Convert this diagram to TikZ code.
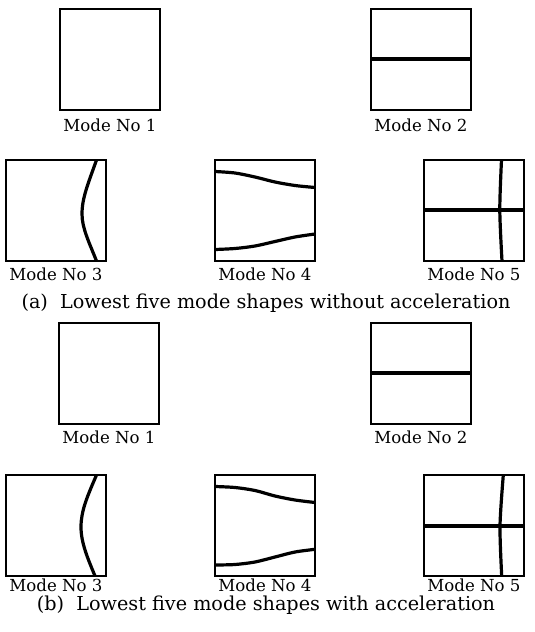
\documentclass[tikz,border=0pt]{standalone}
\usepackage{fontspec}
\setmainfont{DejaVu Serif}
\usetikzlibrary{calc}
\begin{document}
\begin{tikzpicture}[x=1pt,y=-1pt,
  modebox/.style={draw=black, line width=1.6pt, minimum width=100pt, minimum height=101pt, inner sep=0pt, outer sep=0pt, anchor=north west},
  modelabel/.style={anchor=base, font=\fontsize{16.6}{18}\selectfont, inner sep=0pt},
  capt/.style={anchor=base, font=\fontsize{19.2}{22}\selectfont, inner sep=0pt},
  nodal/.style={line width=3.2pt, line join=round}]
\useasboundingbox[fill=white] (0,0) rectangle (535,632);

% ---------- (a) ----------
\node[modebox] (a1) at (60,9) {};
\node[modebox] (a2) at (371,9) {};
\node[modebox] (a3) at (6,160) {};
\node[modebox] (a4) at (215,160) {};
\node[modebox] (a5) at (424,160) {};

\begin{scope}[shift={(a2.north west)}]
  \draw[nodal] (0,50) -- (100,50);
\end{scope}
\begin{scope}[shift={(a3.north west)}]
  \draw[nodal] (90.5,0) .. controls (82,24) and (76,38) .. (76,54)
                        .. controls (76,68) and (83,82) .. (90.5,101);
\end{scope}
\begin{scope}[shift={(a4.north west)}]
  \draw[nodal] plot[smooth] coordinates {(0,11.5) (20,13) (40,17) (60,22) (80,25.5) (100,27.5)};
  \draw[nodal] plot[smooth] coordinates {(0,89.5) (20,88.5) (40,86) (60,81.5) (80,77) (100,74)};
\end{scope}
\begin{scope}[shift={(a5.north west)}]
  \draw[nodal] (0,50) -- (100,50);
  \draw[nodal] plot[smooth] coordinates {(77.5,0) (75.8,50) (78,101)};
\end{scope}

\node[modelabel] (la1) at ($(a1.south)+(0,21)$) {Mode No 1};
\node[modelabel] (la2) at ($(a2.south)+(0,21)$) {Mode No 2};
\node[modelabel] (la3) at ($(a3.south)+(0,19)$) {Mode No 3};
\node[modelabel] (la4) at ($(a4.south)+(0,19)$) {Mode No 4};
\node[modelabel] (la5) at ($(a5.south)+(0,19)$) {Mode No 5};
\node[capt] (capa) at (266,308) {(a)\ \ Lowest five mode shapes without acceleration};

% ---------- (b) ----------
\node[modebox] (b1) at (59,323) {};
\node[modebox] (b2) at (371,323) {};
\node[modebox] (b3) at (6,475) {};
\node[modebox] (b4) at (215,475) {};
\node[modebox] (b5) at (424,475) {};

\begin{scope}[shift={(b2.north west)}]
  \draw[nodal] (0,50) -- (100,50);
\end{scope}
\begin{scope}[shift={(b3.north west)}]
  \draw[nodal] (90.5,0) .. controls (81,22) and (75,36) .. (75,52)
                        .. controls (75,68) and (82,84) .. (89,101);
\end{scope}
\begin{scope}[shift={(b4.north west)}]
  \draw[nodal] plot[smooth] coordinates {(0,11.5) (20,12.5) (40,15.5) (60,21) (80,25) (100,27.5)};
  \draw[nodal] plot[smooth] coordinates {(0,90) (20,89.5) (40,87) (60,82) (80,77) (100,74.3)};
\end{scope}
\begin{scope}[shift={(b5.north west)}]
  \draw[nodal] (0,51) -- (100,51);
  \draw[nodal] plot[smooth] coordinates {(79.3,0) (76,51) (77.7,101)};
\end{scope}

\node[modelabel] (lb1) at ($(b1.south)+(0,19)$) {Mode No 1};
\node[modelabel] (lb2) at ($(b2.south)+(0,19)$) {Mode No 2};
\node[modelabel] (lb3) at ($(b3.south)+(0,15)$) {Mode No 3};
\node[modelabel] (lb4) at ($(b4.south)+(0,15)$) {Mode No 4};
\node[modelabel] (lb5) at ($(b5.south)+(0,15)$) {Mode No 5};
\node[capt] (capb) at (266,610) {(b)\ \ Lowest five mode shapes with acceleration};
\end{tikzpicture}
\end{document}
